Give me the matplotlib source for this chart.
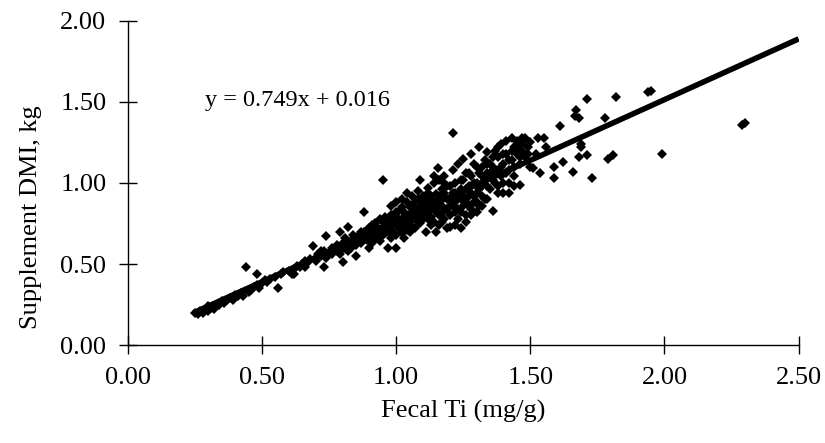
import matplotlib
matplotlib.use('Agg')
import matplotlib.pyplot as plt

plt.rcParams['font.family'] = ['Liberation Serif', 'DejaVu Serif']

# Fecal Ti (mg/g) vs supplement DMI (kg)
fecal_ti = [
    0.25, 0.26, 0.27, 0.28, 0.29, 0.30, 0.31, 0.30, 0.32, 0.33, 0.34, 0.35, 0.36, 0.37, 0.38,
    0.39, 0.40, 0.41, 0.42, 0.43, 0.44, 0.45, 0.46, 0.47, 0.48, 0.48, 0.49, 0.50, 0.51, 0.52,
    0.53, 0.55, 0.56, 0.57, 0.58, 0.60, 0.61, 0.62, 0.63, 0.64, 0.65, 0.66, 0.67, 0.68, 0.69,
    0.70, 0.71, 0.72, 0.73, 0.73, 0.74, 0.75, 0.76, 0.77, 0.78, 0.79, 0.79, 0.80, 0.80, 0.81,
    0.82, 0.82, 0.83, 0.84, 0.85, 0.85, 0.86, 0.87, 0.88, 0.88, 0.89, 0.90, 0.90, 0.91, 0.92,
    0.92, 0.93, 0.94, 0.94, 0.95, 0.95, 0.96, 0.97, 0.97, 0.98, 0.98, 0.99, 1.00, 1.00, 1.00,
    1.01, 1.02, 1.02, 1.03, 1.03, 1.04, 1.04, 1.05, 1.05, 1.06, 1.06, 1.07, 1.07, 1.08, 1.08,
    1.09, 1.09, 1.10, 1.10, 1.11, 1.11, 1.12, 1.12, 1.13, 1.13, 1.14, 1.14, 1.15, 1.15, 1.155,
    1.16, 1.16, 1.17, 1.17, 1.18, 1.18, 1.19, 1.19, 1.20, 1.20, 1.20, 1.21, 1.21, 1.22, 1.22,
    1.23, 1.23, 1.24, 1.24, 1.25, 1.25, 1.26, 1.26, 1.27, 1.27, 1.28, 1.28, 1.29, 1.29, 1.30,
    1.30, 1.31, 1.31, 1.32, 1.32, 1.33, 1.33, 1.34, 1.34, 1.35, 1.35, 1.36, 1.36, 1.37, 1.37,
    1.38, 1.38, 1.39, 1.39, 1.40, 1.40, 1.41, 1.41, 1.42, 1.42, 1.43, 1.43, 1.44, 1.44, 1.45,
    1.45, 1.46, 1.46, 1.47, 1.47, 1.48, 1.48, 1.49, 1.50, 1.50, 1.51, 1.52, 1.53, 1.535, 1.55,
    1.56, 1.59, 1.59, 1.61, 1.62, 1.66, 1.665, 1.67, 1.68, 1.68, 1.69, 1.69, 1.71, 1.71, 1.73,
    1.78, 1.79, 1.81, 1.82, 1.94, 1.95, 1.99, 2.29, 2.30,
    # denser core of the cloud
    0.86, 0.87, 0.88, 0.89, 0.90, 0.91, 0.91, 0.92, 0.93, 0.93, 0.94, 0.95, 0.95, 0.96, 0.96,
    0.97, 0.98, 0.98, 0.99, 0.99, 1.00, 1.00, 1.01, 1.01, 1.02, 1.02, 1.03, 1.03, 1.04, 1.04,
    1.05, 1.05, 1.06, 1.06, 1.07, 1.07, 1.08, 1.08, 1.09, 1.09, 1.10, 1.10, 1.11, 1.11, 1.12,
    1.12, 1.13, 1.13, 1.14, 1.14, 1.15, 1.15, 1.16, 1.16, 1.17, 1.17, 1.18, 1.18, 1.19, 1.19,
    1.20, 1.20, 1.21, 1.21, 1.22, 1.22, 1.23, 1.23, 1.24, 1.24, 1.25, 1.25, 1.26, 1.26, 1.27,
    1.27, 1.28, 1.28, 1.29, 1.29, 1.30, 1.30, 1.31, 1.31, 1.32, 1.32, 1.33, 1.34, 1.34, 1.35,
    1.36, 1.36, 1.37, 1.38, 1.38, 1.39, 1.40, 1.41, 1.42, 1.43, 1.44, 1.45, 1.46, 1.47, 1.49,
    0.62, 0.66, 0.70, 0.72, 0.74, 0.76, 0.78, 0.80, 0.81, 0.83, 0.84, 0.85,
    1.02, 1.04, 1.06, 1.08, 1.00, 0.98, 1.12, 1.14, 1.18, 1.16, 1.32, 1.34, 1.38, 1.40, 1.42,
    1.44, 1.30, 1.26, 1.28, 1.22, 1.24,
]
supplement_dmi = [
    0.20, 0.19, 0.21, 0.20, 0.22, 0.21, 0.23, 0.24, 0.22, 0.24, 0.25, 0.27, 0.26, 0.28, 0.29,
    0.28, 0.31, 0.30, 0.32, 0.30, 0.48, 0.33, 0.34, 0.36, 0.44, 0.37, 0.35, 0.38, 0.40, 0.39,
    0.41, 0.42, 0.35, 0.44, 0.45, 0.46, 0.44, 0.47, 0.49, 0.48, 0.50, 0.52, 0.51, 0.53, 0.61,
    0.54, 0.56, 0.55, 0.48, 0.58, 0.67, 0.57, 0.60, 0.59, 0.62, 0.70, 0.56, 0.51, 0.63, 0.60,
    0.73, 0.58, 0.64, 0.62, 0.66, 0.55, 0.68, 0.63, 0.82, 0.70, 0.65, 0.72, 0.60, 0.68, 0.75,
    0.66, 0.70, 0.78, 0.64, 1.02, 0.72, 0.69, 0.60, 0.76, 0.80, 0.71, 0.74, 0.60, 0.82, 0.68,
    0.77, 0.73, 0.85, 0.79, 0.66, 0.88, 0.74, 0.81, 0.70, 0.92, 0.77, 0.84, 0.72, 0.80, 0.95,
    1.02, 0.75, 0.86, 0.82, 0.70, 0.90, 0.78, 0.97, 0.84, 0.74, 0.88, 1.00, 0.70, 0.93, 1.09,
    0.80, 0.86, 0.96, 0.76, 1.04, 0.83, 0.72, 0.90, 0.73, 0.98, 0.86, 1.31, 1.08, 0.82, 0.94,
    1.12, 0.78, 0.90, 1.02, 0.86, 1.15, 0.96, 0.80, 1.06, 0.92, 1.18, 0.84, 1.00, 0.88, 1.10,
    0.94, 1.22, 0.86, 1.04, 0.98, 1.14, 0.90, 1.19, 1.06, 0.96, 1.12, 0.83, 1.02, 1.20, 1.08,
    0.94, 1.16, 1.24, 1.04, 1.12, 1.00, 1.26, 1.18, 0.94, 1.08, 1.28, 1.14, 1.22, 1.04, 1.18,
    1.26, 0.99, 1.12, 1.20, 1.28, 1.28, 1.16, 1.22, 1.10, 1.25, 1.09, 1.18, 1.28, 1.06, 1.28,
    1.22, 1.10, 1.03, 1.35, 1.13, 1.07, 1.41, 1.45, 1.40, 1.16, 1.24, 1.22, 1.52, 1.17, 1.03,
    1.40, 1.15, 1.17, 1.53, 1.56, 1.57, 1.18, 1.36, 1.37,
    0.64, 0.70, 0.66, 0.71, 0.67, 0.74, 0.63, 0.70, 0.73, 0.66, 0.71, 0.76, 0.68, 0.74, 0.79,
    0.70, 0.76, 0.66, 0.78, 0.70, 0.75, 0.79, 0.72, 0.83, 0.78, 0.69, 0.82, 0.75, 0.79, 0.71,
    0.85, 0.76, 0.81, 0.73, 0.88, 0.79, 0.84, 0.76, 0.80, 0.88, 0.78, 0.92, 0.84, 0.80, 0.88,
    0.82, 0.92, 0.79, 0.84, 0.76, 0.88, 0.82, 0.92, 0.74, 0.86, 0.90, 0.78, 0.94, 0.84, 0.98,
    0.90, 0.80, 0.94, 0.86, 0.88, 1.00, 0.92, 0.84, 0.96, 0.82, 0.92, 1.02, 0.88, 1.06, 0.98,
    0.86, 0.94, 1.04, 0.92, 1.12, 1.00, 0.88, 1.06, 0.96, 1.10, 0.92, 1.02, 0.98, 1.12, 1.06,
    1.16, 1.10, 1.00, 1.06, 1.22, 1.10, 1.18, 1.06, 1.14, 1.20, 1.10, 1.22, 1.16, 1.24, 1.18,
    0.44, 0.48, 0.52, 0.58, 0.54, 0.56, 0.58, 0.60, 0.66, 0.60, 0.68, 0.62,
    0.90, 0.94, 0.86, 0.90, 0.88, 0.86, 0.94, 1.04, 1.00, 1.02, 0.86, 0.90, 0.98, 0.94, 1.00,
    0.98, 0.82, 0.76, 0.80, 0.74, 0.72,
]

# regression reported on the chart
slope = 0.749
intercept = 0.016
fit_x = [0.245, 2.5]
fit_y = [slope * v + intercept for v in fit_x]

fig = plt.figure(figsize=(8.25, 4.43), dpi=100)
ax = fig.add_axes([0.155, 0.221, 0.813, 0.732])

ax.plot(fecal_ti, supplement_dmi, linestyle='none', marker='D', markersize=4.8,
        color='black', markeredgewidth=0)
ax.plot(fit_x, fit_y, color='black', linewidth=4, solid_capstyle='butt')

ax.text(0.287, 1.51, 'y = 0.749x + 0.016', fontsize=17.5, va='center', ha='left')

ax.set_xlim(0, 2.5)
ax.set_ylim(0, 2.0)
ax.set_xticks([0, 0.5, 1.0, 1.5, 2.0, 2.5])
ax.set_yticks([0, 0.5, 1.0, 1.5, 2.0])
ax.xaxis.set_major_formatter(matplotlib.ticker.FormatStrFormatter('%.2f'))
ax.yaxis.set_major_formatter(matplotlib.ticker.FormatStrFormatter('%.2f'))
ax.tick_params(direction='inout', length=13, width=1, pad=9, labelsize=19)

ax.spines['top'].set_visible(False)
ax.spines['right'].set_visible(False)
ax.spines['left'].set_linewidth(1)
ax.spines['bottom'].set_linewidth(1)

ax.set_xlabel('Fecal Ti (mg/g)', fontsize=19)
ax.set_ylabel('Supplement DMI, kg', fontsize=19)
ax.xaxis.set_label_coords(0.5, -0.17)
ax.yaxis.set_label_coords(-0.128, 0.395)

fig.savefig('out.png', dpi=100)
